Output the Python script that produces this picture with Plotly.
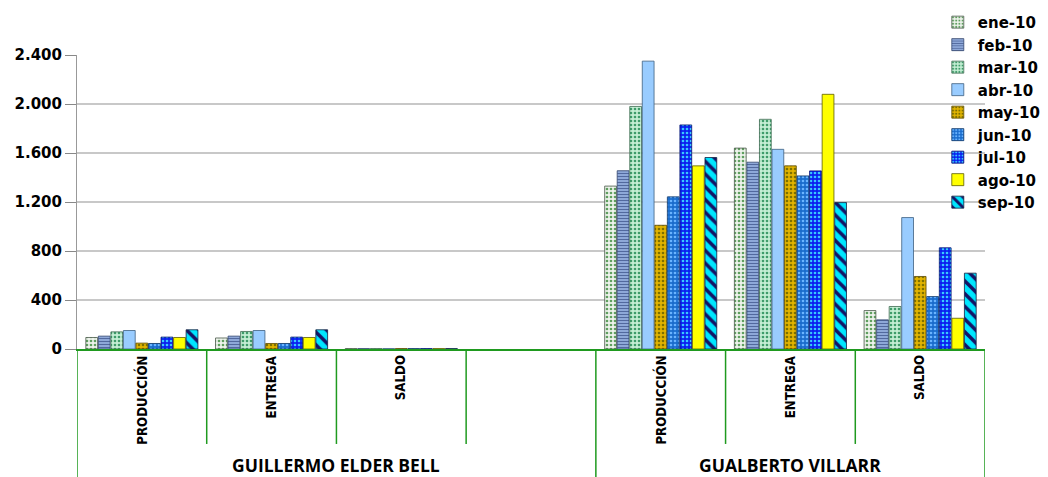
import plotly.graph_objects as go

# x slots: two producers, each with PRODUCCIÓN / ENTREGA / SALDO (first block has a spare slot)
categories = ["PRODUCCIÓN", "ENTREGA", "SALDO", "", "PRODUCCIÓN", "ENTREGA", "SALDO"]
group_of_slot = [0, 0, 0, 0, 1, 1, 1]
group_names = ["GUILLERMO ELDER BELL", "GUALBERTO VILLARR"]

# monthly values per slot (None = empty slot)
ene_10 = [94, 90, 3, None, 1330, 1640, 314]
feb_10 = [105, 105, 3, None, 1455, 1525, 238]
mar_10 = [140, 143, 3, None, 1980, 1875, 347]
abr_10 = [151, 151, 3, None, 2350, 1630, 1073]
may_10 = [48, 45, 3, None, 1010, 1495, 592]
jun_10 = [45, 45, 3, None, 1242, 1413, 428]
jul_10 = [97, 97, 3, None, 1829, 1454, 826]
ago_10 = [94, 94, 3, None, 1495, 2079, 251]
sep_10 = [157, 157, 3, None, 1563, 1195, 619]

months = ["ene-10", "feb-10", "mar-10", "abr-10", "may-10",
          "jun-10", "jul-10", "ago-10", "sep-10"]
series = [ene_10, feb_10, mar_10, abr_10, may_10, jun_10, jul_10, ago_10, sep_10]

tick_vals = [0, 400, 800, 1200, 1600, 2000, 2400]
tick_text = ["0", "400", "800", "1.200", "1.600", "2.000", "2.400"]

# fill style per month: (background, foreground, pattern shape, pattern size, solidity, outline)
styles = [
    ("#eef3ec", "#5f9f5f", ".", 4, 0.35, "#4d5a4d"),
    ("#8ea8d8", "#52699e", "-", 3, 0.35, "#34466e"),
    ("#c4eed4", "#3e9c6a", ".", 4, 0.35, "#3f6b52"),
    ("#99ccff", "#99ccff", "", 4, 0.3, "#3d5f80"),
    ("#e2b400", "#7d7000", ".", 4, 0.35, "#5c4a00"),
    ("#1a6ccc", "#6ab4ff", ".", 4, 0.35, "#0d3566"),
    ("#0a1ff0", "#39c8ff", ".", 4, 0.35, "#00106e"),
    ("#ffff00", "#ffff00", "", 4, 0.3, "#5c5c00"),
    ("#00e6ff", "#141466", "\\", 9, 0.4, "#102040"),
]

x_idx = list(range(len(categories)))

fig = go.Figure()
for name, vals, (bg, fg, shape, size, sol, line) in zip(months, series, styles):
    fig.add_trace(go.Bar(
        name=name, x=x_idx, y=vals,
        marker=dict(
            color=bg,
            line=dict(color=line, width=0.8),
            pattern=dict(shape=shape, fgcolor=fg, bgcolor=bg, size=size,
                         solidity=sol, fillmode="replace"),
        ),
    ))

green = "#1f9a1f"
shapes = []
annotations = []

# inner separators between slots of the same producer, outer ones at block edges
n = len(categories)
for k in range(n + 1):
    xpos = k - 0.5
    if k == 0 or k == n or group_of_slot[k] != group_of_slot[k - 1]:
        y_end = -0.44
    else:
        y_end = -0.323
    shapes.append(dict(type="line", xref="x", yref="paper", x0=xpos, x1=xpos,
                       y0=0, y1=y_end, line=dict(color=green, width=1.5)))

for i, label in enumerate(categories):
    if label:
        annotations.append(dict(
            x=i, y=-0.015, xref="x", yref="paper", text=label, showarrow=False,
            textangle=-90, yanchor="top", xanchor="center",
            font=dict(family="DejaVu Sans Condensed, Roboto", size=13.2,
                      color="#000000", weight="bold"),
        ))

for g, gname in enumerate(group_names):
    members = [i for i, s in enumerate(group_of_slot) if s == g]
    annotations.append(dict(
        x=(members[0] + members[-1]) / 2, y=-0.395, xref="x", yref="paper",
        text=gname, showarrow=False, yanchor="middle", xanchor="center",
        font=dict(family="Open Sans", size=17.5, color="#000000", weight="bold"),
    ))

fig.update_layout(
    width=1048, height=477,
    margin=dict(l=77, r=63, t=55, b=128, autoexpand=False),
    paper_bgcolor="white", plot_bgcolor="white",
    barmode="group", bargap=0.13, bargroupgap=0.06,
    showlegend=True,
    legend=dict(x=0.948, y=1.167, xanchor="left", yanchor="top",
                font=dict(family="DejaVu Sans", size=15, color="#000000", weight="bold"),
                bgcolor="rgba(0,0,0,0)", tracegroupgap=0),
    xaxis=dict(range=[-0.5, n - 0.5], showticklabels=False, ticks="",
               showgrid=False, zeroline=False, showline=True,
               linecolor=green, linewidth=1.5),
    yaxis=dict(range=[0, 2400], tickvals=tick_vals, ticktext=tick_text,
               tickfont=dict(family="DejaVu Sans", size=15, color="#000000", weight="bold"),
               ticks="outside", ticklen=11, tickcolor="#888888",
               showline=True, linecolor="#999999", linewidth=1,
               gridcolor="#c8c8c8", gridwidth=1.5, zeroline=False),
    shapes=shapes, annotations=annotations,
)

fig.write_html("out.html")
